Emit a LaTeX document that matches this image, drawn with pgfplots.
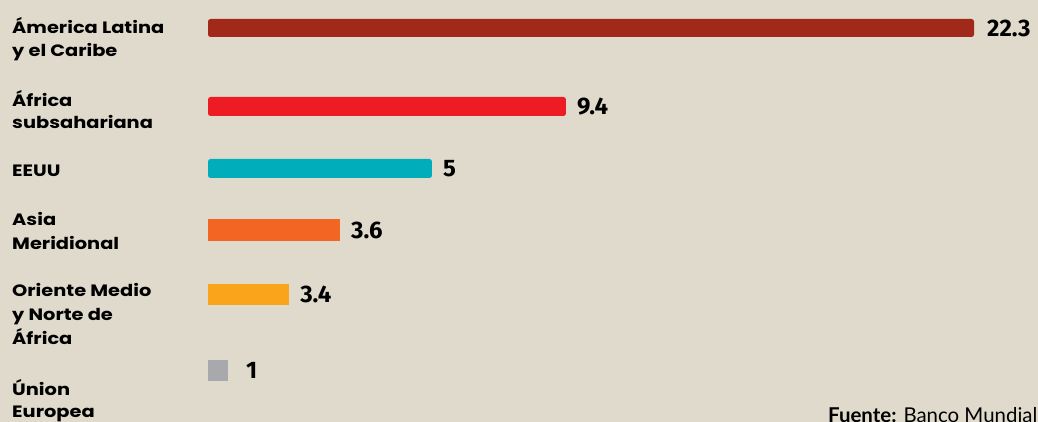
\documentclass[border=0pt]{standalone}
\usepackage{pgfplots}
\pgfplotsset{compat=1.18}
\usepackage{fontspec}
\setmainfont{Poppins}[FakeStretch=1.18]
\newfontfamily\valfont{Fira Sans}
\newfontfamily\srcfont{Lato}
\definecolor{bg}{RGB}{223,218,203}
\definecolor{cA}{RGB}{160,41,26}
\definecolor{cB}{RGB}{237,28,36}
\definecolor{cC}{RGB}{0,174,187}
\definecolor{cD}{RGB}{242,101,34}
\definecolor{cE}{RGB}{250,164,28}
\definecolor{cF}{RGB}{167,169,172}
\begin{document}
\begin{tikzpicture}
\useasboundingbox (0,0) rectangle (1038bp,422bp);
\fill[bg] (0,0) rectangle (1038bp,422bp);
\begin{axis}[
  at={(208bp,0bp)}, anchor=south west,
  scale only axis, width=766bp, height=422bp,
  xmin=0, xmax=22.3, ymin=0, ymax=422,
  hide axis, clip=false,
  xbar, bar shift=0pt,
  nodes near coords, point meta=explicit symbolic,
  nodes near coords style={anchor=west, inner sep=0pt, text=black,
    font=\valfont\bfseries\fontsize{24}{24}\selectfont},
]
\addplot[fill=cA, draw=none, bar width=18, rounded corners=2.5bp,
  nodes near coords style={xshift=13bp}] coordinates {(22.3,394) [22.3]};
\addplot[fill=cB, draw=none, bar width=19, rounded corners=2.5bp,
  nodes near coords style={xshift=11bp}] coordinates {(10.42,315.5) [9.4]};
\addplot[fill=cC, draw=none, bar width=19, rounded corners=2.5bp,
  nodes near coords style={xshift=11bp}] coordinates {(6.52,253.5) [5]};
\addplot[fill=cD, draw=none, bar width=22,
  nodes near coords style={xshift=11bp}] coordinates {(3.84,192) [3.6]};
\addplot[fill=cE, draw=none, bar width=21,
  nodes near coords style={xshift=11bp}] coordinates {(2.36,127.5) [3.4]};
\addplot[fill=cF, draw=none, bar width=21,
  nodes near coords style={xshift=18bp}] coordinates {(0.58,51.5) [1]};
\end{axis}
\begin{scope}[every node/.style={anchor=base west, inner sep=0pt,
    font=\bfseries\fontsize{16.5}{18}\selectfont}]
\node at (12bp,388bp) {Ámerica Latina};
\node at (12bp,365bp) {y el Caribe};
\node at (12bp,315bp) {África};
\node at (12bp,293bp) {subsahariana};
\node at (12bp,245.5bp) {EEUU};
\node at (12bp,196bp) {Asia};
\node at (12bp,172bp) {Meridional};
\node at (12bp,125bp) {Oriente Medio};
\node at (12bp,101bp) {y Norte de};
\node at (12bp,77bp) {África};
\node at (12bp,27bp) {Únion};
\node at (12bp,5bp) {Europea};
\end{scope}
\node[anchor=base west, inner sep=0pt, font=\srcfont\fontsize{20.5}{20}\selectfont]
  at (828bp,0bp) {\textbf{Fuente:} Banco Mundial};
\end{tikzpicture}
\end{document}
